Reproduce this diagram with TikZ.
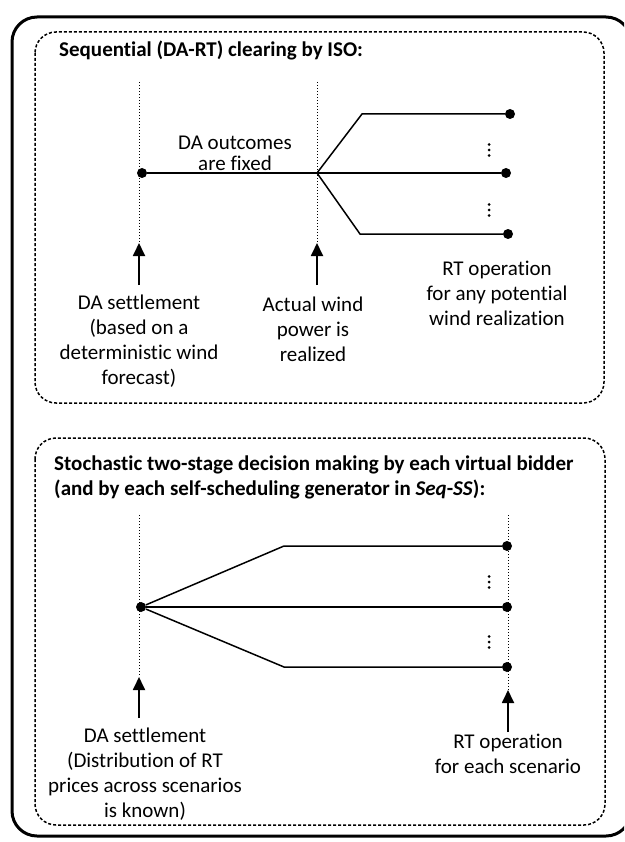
\documentclass[tikz,border=0pt]{standalone}
\usepackage{fontspec}
\setmainfont{Carlito}[Ligatures=NoCommon]
\usetikzlibrary{arrows.meta}
\begin{document}
\begin{tikzpicture}[x=1pt,y=-1pt,
  outerframe/.style={line width=3pt, rounded corners=25pt},
  panel/.style={line width=1.5pt, dash pattern=on 3pt off 2pt, rounded corners=21pt},
  timeline/.style={line width=0.8pt, dash pattern=on 0.8pt off 2.2pt},
  branch/.style={line width=1.5pt},
  endpt/.style={circle, fill=black, inner sep=0pt, minimum size=10pt},
  pointer/.style={line width=1.8pt, -{Triangle[length=13pt,width=12pt]}},
  lbl/.style={anchor=north, inner sep=0pt, align=center, font=\fontsize{21}{25}\selectfont},
  tightlbl/.style={anchor=north, inner sep=0pt, align=center, font=\fontsize{21}{18}\selectfont},
  heading/.style={anchor=north west, inner sep=0pt, align=left, font=\fontsize{21}{25}\selectfont\bfseries},
]
\useasboundingbox (0,0) rectangle (624,842);
\clip (0,0) rectangle (624,842);

% outer frame and the two panels
\draw[outerframe] (12,17) rectangle (631,836);
\draw[panel] (35,32) rectangle (604,403);
\draw[panel] (35,438) rectangle (605,825);

% ---------- sequential clearing ----------
\node[heading] (seqtitle) at (59,38.5) {\strut Sequential (DA-RT) clearing by ISO:};

\coordinate (sTopA) at (139,82);
\coordinate (sTipA) at (139,243);
\coordinate (sTailA) at (139,285);
\coordinate (sTopB) at (317,82);
\coordinate (sTipB) at (317,243);
\coordinate (sTailB) at (317,285);
\draw[timeline] (sTopA) -- (sTipA);
\draw[timeline] (sTopB) -- (sTipB);

\node[endpt] (sRoot) at (142,173) {};
\coordinate (sFork) at (317,173);
\coordinate (sUpBend) at (362,114);
\coordinate (sLowBend) at (360,234);
\node[endpt] (sUp) at (510,114) {};
\node[endpt] (sMid) at (506,173) {};
\node[endpt] (sLow) at (508,234) {};
\draw[branch] (sRoot) -- (sFork) -- (sMid);
\draw[branch] (sFork) -- (sUpBend) -- (sUp);
\draw[branch] (sFork) -- (sLowBend) -- (sLow);
\foreach \yy in {150,210} \foreach \d in {-5.5,0,5.5} \fill (489,\yy+\d) circle (1.5pt);

\node[tightlbl] (fixed) at (235,135.4) {\strut DA outcomes\\are fixed};

\draw[pointer] (sTailA) -- (sTipA);
\draw[pointer] (sTailB) -- (sTipB);

\node[lbl] (sDA) at (139,291.5) {\strut DA settlement\\(based on a\\deterministic wind\\forecast)};
\node[lbl] (sWind) at (313,293.5) {\strut Actual wind\\power is\\realized};
\node[lbl] (sRT) at (497,257.5) {\strut RT operation\\for any potential\\wind realization};

% ---------- stochastic two-stage decision ----------
\node[heading] (stotitle) at (54,452.5) {\strut Stochastic two-stage decision making by each virtual bidder\\(and by each self-scheduling generator in \textit{Seq}-\textit{SS}):};

\coordinate (tTopA) at (139,515);
\coordinate (tTipA) at (139,677);
\coordinate (tTailA) at (139,718);
\coordinate (tTopB) at (508,515);
\coordinate (tTipB) at (508,690);
\coordinate (tTailB) at (508,732);
\draw[timeline] (tTopA) -- (tTipA);
\draw[timeline] (tTopB) -- (tTipB);

\node[endpt] (tRoot) at (141,607) {};
\coordinate (tUpBend) at (284,546);
\coordinate (tLowBend) at (284,667);
\node[endpt] (tUp) at (507,546) {};
\node[endpt] (tMid) at (507,607) {};
\node[endpt] (tLow) at (507,667) {};
\draw[branch] (tRoot) -- (tMid);
\draw[branch] (tRoot) -- (tUpBend) -- (tUp);
\draw[branch] (tRoot) -- (tLowBend) -- (tLow);
\foreach \yy in {582,642} \foreach \d in {-5.5,0,5.5} \fill (489,\yy+\d) circle (1.5pt);

\draw[pointer] (tTailA) -- (tTipA);
\draw[pointer] (tTailB) -- (tTipB);

\node[lbl] (tDA) at (145,724.5) {\strut DA settlement\\(Distribution of RT\\prices across scenarios\\is known)};
\node[lbl] (tRT) at (508,730.5) {\strut RT operation\\for each scenario};
\end{tikzpicture}
\end{document}
